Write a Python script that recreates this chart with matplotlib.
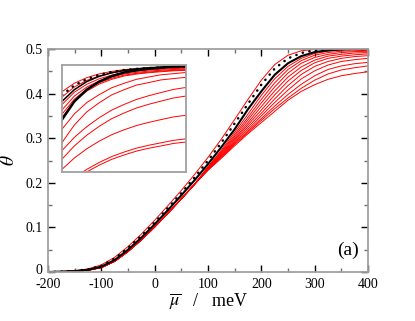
"""Coverage curves theta versus mean chemical potential, with an inset."""

import matplotlib
matplotlib.use("Agg")
import matplotlib.pyplot as plt
from matplotlib.transforms import ScaledTranslation

# main panel: mu grid (meV) and theta values
MU = [-200, -175, -150, -125, -100, -75, -50, -25, 0, 25, 50, 75,
      100, 125, 150, 175, 200, 225, 250, 275, 300, 325, 350, 375, 400]

THETA_BLACK = [0, 0.001, 0.002, 0.005, 0.012, 0.027, 0.050, 0.077, 0.107,
               0.139, 0.172, 0.206, 0.242, 0.280, 0.320, 0.365, 0.405,
               0.442, 0.468, 0.484, 0.493, 0.497, 0.499, 0.500, 0.500]
THETA_DOTS = [0, 0.001, 0.0025, 0.006, 0.014, 0.030, 0.054, 0.081, 0.111,
              0.144, 0.177, 0.212, 0.250, 0.290, 0.333, 0.377, 0.420,
              0.456, 0.479, 0.491, 0.497, 0.499, 0.500, 0.500, 0.500]
THETA_RED_LEAD = [0, 0.001, 0.003, 0.007, 0.016, 0.033, 0.057, 0.085, 0.116,
                  0.149, 0.183, 0.219, 0.257, 0.298, 0.342, 0.387, 0.430,
                  0.465, 0.486, 0.496, 0.499, 0.500, 0.500, 0.500, 0.500]

# red family: shared low part (mu -200..75) and fanned upper part (mu 100..400)
RED_LOW = [0, 0.0008, 0.002, 0.004, 0.010, 0.024, 0.046, 0.072, 0.101,
           0.132, 0.164, 0.197]
RED_HIGH = [
    [0.236, 0.273, 0.313, 0.354, 0.396, 0.433, 0.461, 0.479, 0.490, 0.495, 0.498, 0.499, 0.499],
    [0.235, 0.270, 0.308, 0.347, 0.387, 0.424, 0.454, 0.474, 0.486, 0.492, 0.495, 0.496, 0.497],
    [0.234, 0.268, 0.304, 0.341, 0.379, 0.415, 0.446, 0.468, 0.481, 0.488, 0.492, 0.494, 0.495],
    [0.233, 0.266, 0.300, 0.335, 0.371, 0.406, 0.437, 0.460, 0.475, 0.484, 0.488, 0.491, 0.492],
    [0.232, 0.264, 0.297, 0.330, 0.363, 0.397, 0.428, 0.452, 0.469, 0.479, 0.484, 0.487, 0.489],
    [0.231, 0.262, 0.294, 0.325, 0.356, 0.388, 0.418, 0.443, 0.461, 0.472, 0.479, 0.483, 0.485],
    [0.230, 0.260, 0.291, 0.320, 0.350, 0.380, 0.408, 0.433, 0.451, 0.464, 0.472, 0.476, 0.479],
    [0.229, 0.259, 0.288, 0.316, 0.344, 0.372, 0.398, 0.421, 0.440, 0.454, 0.462, 0.467, 0.470],
    [0.229, 0.257, 0.286, 0.313, 0.340, 0.366, 0.390, 0.412, 0.430, 0.444, 0.453, 0.458, 0.462],
    [0.228, 0.255, 0.283, 0.310, 0.335, 0.360, 0.385, 0.405, 0.420, 0.432, 0.440, 0.445, 0.449],
]

X_TICKS = [-200, -100, 0, 100, 200, 300, 400]
X_TICK_LABELS = ["-200", "-100", "0", "100", "200", "300", "400"]
Y_TICKS = [0, 0.1, 0.2, 0.3, 0.4, 0.5]
Y_TICK_LABELS = ["0", "0.1", "0.2", "0.3", "0.4", "0.5"]

# inset: relative position (0..1) and relative height (0..1)
INSET_U = [0, 0.1, 0.2, 0.3, 0.4, 0.5, 0.6, 0.7, 0.8, 0.9, 1.0]
INSET_BLACK_THICK = [0.49, 0.66, 0.77, 0.845, 0.895, 0.93, 0.95, 0.965, 0.975, 0.985, 0.99]
INSET_BLACK_THIN = [0.66, 0.77, 0.845, 0.894, 0.927, 0.95, 0.964, 0.974, 0.98, 0.987, 0.99]
INSET_DOTS = [0.72, 0.81, 0.868, 0.908, 0.935, 0.953, 0.964, 0.972, 0.977, 0.982, 0.985]
INSET_RED = [
    [0.75, 0.83, 0.882, 0.917, 0.94, 0.957, 0.966, 0.973, 0.978, 0.983, 0.985],
    [0.70, 0.795, 0.856, 0.897, 0.925, 0.945, 0.956, 0.964, 0.97, 0.975, 0.978],
    [0.63, 0.746, 0.82, 0.871, 0.905, 0.929, 0.943, 0.953, 0.96, 0.967, 0.97],
    [0.58, 0.71, 0.794, 0.851, 0.889, 0.916, 0.931, 0.943, 0.951, 0.958, 0.962],
    [0.54, 0.681, 0.772, 0.835, 0.876, 0.905, 0.922, 0.934, 0.943, 0.951, 0.955],
    [0.51, 0.66, 0.756, 0.822, 0.866, 0.897, 0.915, 0.928, 0.937, 0.946, 0.95],
    [0.40, 0.543, 0.649, 0.723, 0.787, 0.829, 0.866, 0.888, 0.909, 0.919, 0.93],
    [0.275, 0.44, 0.562, 0.647, 0.72, 0.769, 0.812, 0.836, 0.861, 0.873, 0.885],
    [0.20, 0.324, 0.424, 0.507, 0.578, 0.631, 0.678, 0.713, 0.743, 0.772, 0.79],
    [0.12, 0.244, 0.344, 0.427, 0.498, 0.551, 0.598, 0.633, 0.663, 0.692, 0.71],
    [0.025, 0.131, 0.217, 0.288, 0.348, 0.394, 0.434, 0.464, 0.49, 0.515, 0.53],
    [-0.15, -0.053, 0.025, 0.089, 0.144, 0.186, 0.223, 0.25, 0.273, 0.296, 0.31],
    [-0.17, -0.076, 0.001, 0.064, 0.118, 0.159, 0.195, 0.222, 0.244, 0.267, 0.28],
]

FRAME = "#a0a0a0"
DOTTED = (0, (0.1, 2.6))


def style_axes(ax):
    for spine in ax.spines.values():
        spine.set_color(FRAME)
        spine.set_linewidth(1.3)


def plot():
    plt.rcParams["font.family"] = ["Liberation Serif", "DejaVu Serif"]
    plt.rcParams["mathtext.fontset"] = "stix"

    fig = plt.figure(figsize=(4.15, 3.21), dpi=100)
    ax = fig.add_axes([0.1157, 0.1526, 0.771, 0.6948])

    for high in RED_HIGH:
        ax.plot(MU, RED_LOW + high, color="red", lw=0.7)
    ax.plot(MU, THETA_RED_LEAD, color="red", lw=0.7)
    ax.plot(MU, THETA_BLACK, color="black", lw=1.5)
    ax.plot(MU, THETA_DOTS, color="black", lw=1.8, ls=DOTTED,
            dash_capstyle="round")

    ax.set_xlim(-200, 400)
    ax.set_ylim(0, 0.5)
    ax.set_xticks(X_TICKS)
    ax.set_xticklabels(X_TICK_LABELS)
    ax.set_xticks([-150, -50, 50, 150, 250, 350], minor=True)
    ax.set_yticks(Y_TICKS)
    ax.set_yticklabels(Y_TICK_LABELS)
    ax.set_yticks([0.05, 0.15, 0.25, 0.35, 0.45], minor=True)
    ax.tick_params(which="both", direction="in", top=True, right=True,
                   labelsize=10)
    ax.tick_params(axis="x", pad=4)
    ax.tick_params(axis="y", pad=4)
    ax.tick_params(which="major", length=5, width=1, color="black")
    ax.tick_params(which="minor", length=3, width=1, color="#707070")
    style_axes(ax)

    # nudge the "0" on the y axis up a little so it clears "-200"
    zero = ax.get_yticklabels()[0]
    zero.set_transform(zero.get_transform()
                       + ScaledTranslation(0, 2.5 / 72, fig.dpi_scale_trans))

    ax.set_xlabel(r"$\overline{\mu}$   /   meV", fontsize=13, labelpad=1)
    ax.set_ylabel(r"$\theta$", fontsize=14, labelpad=5)
    ax.text(0.97, 0.06, "(a)", transform=ax.transAxes, ha="right",
            va="bottom", fontsize=14)

    inset = fig.add_axes([0.1494, 0.4642, 0.2988, 0.3333])
    for curve in INSET_RED:
        inset.plot(INSET_U, curve, color="red", lw=0.7)
    inset.plot(INSET_U, INSET_BLACK_THIN, color="black", lw=1.1)
    inset.plot(INSET_U, INSET_BLACK_THICK, color="black", lw=1.8)
    inset.plot(INSET_U, INSET_DOTS, color="black", lw=1.8, ls=DOTTED,
               dash_capstyle="round")
    inset.set_xlim(0, 1)
    inset.set_ylim(0, 1)
    inset.set_xticks([])
    inset.set_yticks([])
    style_axes(inset)

    fig.savefig("out.png", dpi=100)


def main():
    plot()


if __name__ == "__main__":
    main()
